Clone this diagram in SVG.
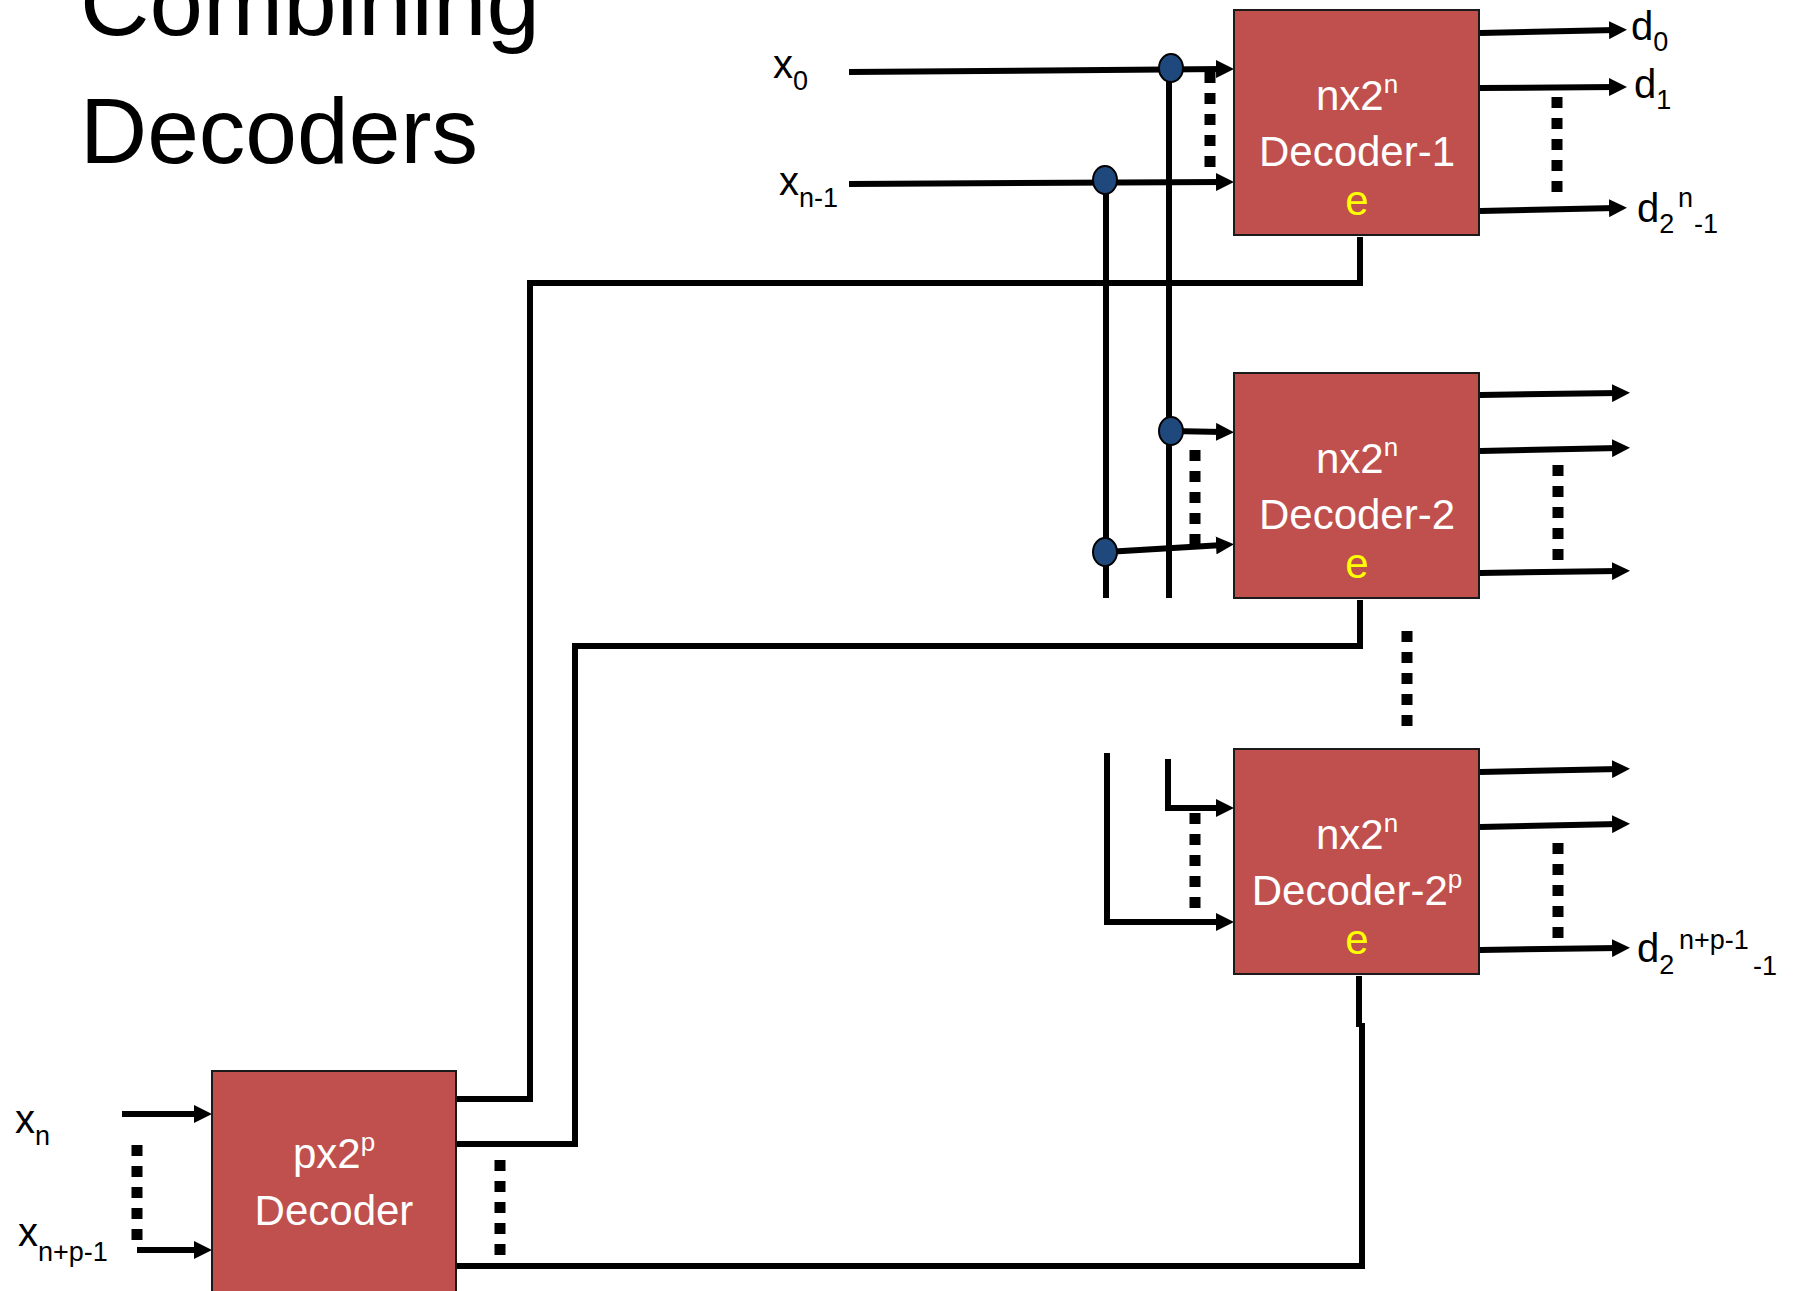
<svg xmlns="http://www.w3.org/2000/svg" width="1795" height="1291" viewBox="0 0 1795 1291">
<style>
.box{fill:#C0504D;stroke:#1a1a1a;stroke-width:2}
.bt{font-family:"Liberation Sans",Arial,sans-serif;font-size:42px;fill:#FFFFFF;text-anchor:middle}
.en{font-family:"Liberation Sans",Arial,sans-serif;font-size:42px;fill:#FFFF00;text-anchor:middle}
.lbl{font-family:"Liberation Sans",Arial,sans-serif;font-size:40px;fill:#000}
.sub{font-size:27px}
.title{font-family:"Liberation Sans",Arial,sans-serif;font-size:92px;fill:#000}
.w{fill:none;stroke:#000;stroke-width:6}
.a{fill:none;stroke:#000;stroke-width:6;marker-end:url(#arr)}
.dot{fill:none;stroke:#000;stroke-width:11;stroke-dasharray:11 10}
.jn{fill:#1F497D;stroke:#000;stroke-width:2}
</style>
<defs>
<marker id="arr" markerUnits="userSpaceOnUse" markerWidth="18" markerHeight="18" refX="7" refY="9" orient="auto">
<path d="M0,0 L18,9 L0,18 z" fill="#000"/>
</marker>
</defs>
<rect width="1795" height="1291" fill="#fff"/>
<g id="title">
<text class="title" x="80" y="35" textLength="460" lengthAdjust="spacingAndGlyphs">Combining</text>
<text class="title" x="80" y="163" textLength="398" lengthAdjust="spacingAndGlyphs">Decoders</text>
</g>
<g id="connectors">
<path class="a" d="M849,72 L1223,69"/>
<path class="a" d="M849,184 L1223,182"/>
<path class="w" d="M1169,68 V598"/>
<path class="w" d="M1106,180 V598"/>
<path class="a" d="M1171,431 L1223,432"/>
<path class="a" d="M1106,552 L1223,545"/>
<path class="a" d="M1107,753 V922 H1223"/>
<path class="a" d="M1168,759 V808 H1223"/>
<path class="a" d="M1480,33 L1616,30"/>
<path class="a" d="M1480,88 L1616,87"/>
<path class="a" d="M1480,211 L1616,208"/>
<path class="a" d="M1480,395 L1619,393"/>
<path class="a" d="M1480,451 L1619,448"/>
<path class="a" d="M1480,573 L1619,571"/>
<path class="a" d="M1480,772 L1619,769"/>
<path class="a" d="M1480,827 L1619,824"/>
<path class="a" d="M1480,950 L1619,948"/>
<path class="w" d="M1360,237 V283 H530 V1099 H456"/>
<path class="w" d="M1360,600 V646 H575 V1144 H456"/>
<path class="w" d="M1359,976 V1027 M1362,1023 V1266 H456"/>
<path class="a" d="M122,1114 H201"/>
<path class="a" d="M137,1250 H201"/>
<path class="dot" d="M1210,72 V167"/>
<path class="dot" d="M1557,97 V192"/>
<path class="dot" d="M1195,450 V545"/>
<path class="dot" d="M1558,465 V560"/>
<path class="dot" d="M1407,631 V726"/>
<path class="dot" d="M1195,813 V908"/>
<path class="dot" d="M1558,843 V938"/>
<path class="dot" d="M137,1145 V1240"/>
<path class="dot" d="M500,1160 V1255"/>
<ellipse class="jn" cx="1171" cy="68" rx="12" ry="14"/>
<ellipse class="jn" cx="1105" cy="180" rx="12" ry="14"/>
<ellipse class="jn" cx="1171" cy="431" rx="12" ry="14"/>
<ellipse class="jn" cx="1105" cy="552" rx="12" ry="14"/>
</g>
<g id="decoder1">
<rect class="box" x="1234" y="10" width="245" height="225"/>
<text class="bt" x="1357" y="110">nx2<tspan dy="-17" font-size="26">n</tspan></text>
<text class="bt" x="1357" y="166">Decoder-1</text>
<text class="en" x="1357" y="215">e</text>
</g>
<g id="decoder2">
<rect class="box" x="1234" y="373" width="245" height="225"/>
<text class="bt" x="1357" y="473">nx2<tspan dy="-17" font-size="26">n</tspan></text>
<text class="bt" x="1357" y="529">Decoder-2</text>
<text class="en" x="1357" y="578">e</text>
</g>
<g id="decoder2p">
<rect class="box" x="1234" y="749" width="245" height="225"/>
<text class="bt" x="1357" y="849">nx2<tspan dy="-17" font-size="26">n</tspan></text>
<text class="bt" x="1357" y="905">Decoder-2<tspan dy="-17" font-size="26">p</tspan></text>
<text class="en" x="1357" y="954">e</text>
</g>
<g id="pdecoder">
<rect class="box" x="212" y="1071" width="244" height="240"/>
<text class="bt" x="334" y="1168">px2<tspan dy="-17" font-size="26">p</tspan></text>
<text class="bt" x="334" y="1225">Decoder</text>
</g>
<g id="labels">
<text class="lbl" x="773" y="78">x<tspan class="sub" y="90">0</tspan></text>
<text class="lbl" x="779" y="195">x<tspan class="sub" y="207">n-1</tspan></text>
<text class="lbl" x="1631" y="40">d<tspan class="sub" y="51">0</tspan></text>
<text class="lbl" x="1634" y="98">d<tspan class="sub" y="109">1</tspan></text>
<text class="lbl" x="1637" y="222">d<tspan class="sub" y="233">2</tspan><tspan class="sub" x="1678" y="207">n</tspan><tspan class="sub" x="1694" y="233">-1</tspan></text>
<text class="lbl" x="1637" y="962">d<tspan class="sub" y="974">2</tspan><tspan class="sub" x="1679" y="949">n+p-1</tspan><tspan class="sub" x="1753" y="975">-1</tspan></text>
<text class="lbl" x="15" y="1133">x<tspan class="sub" y="1145">n</tspan></text>
<text class="lbl" x="18" y="1246">x<tspan class="sub" y="1261">n+p-1</tspan></text>
</g>
</svg>
